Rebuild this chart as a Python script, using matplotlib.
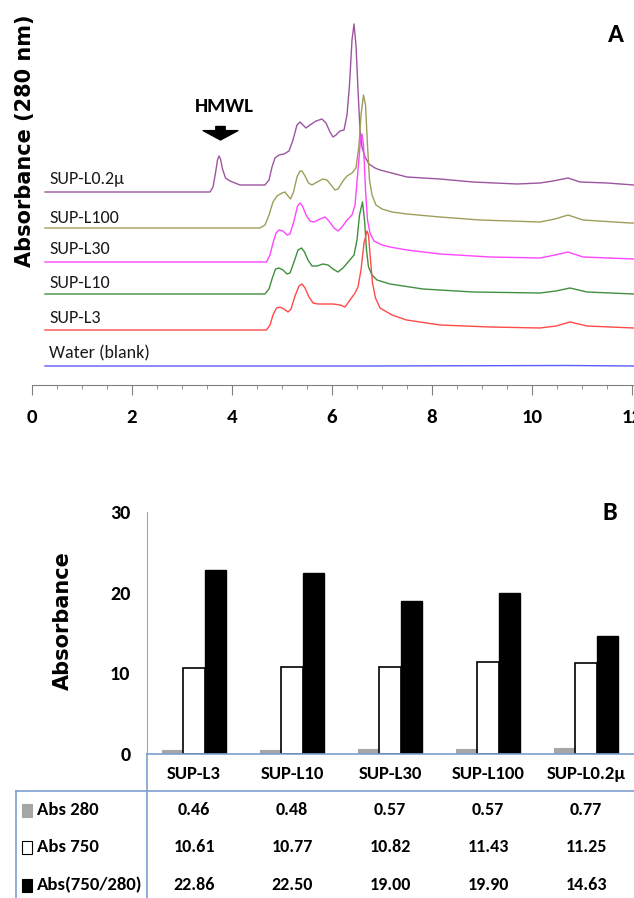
import numpy as np
import matplotlib
matplotlib.use('Agg')
import matplotlib.pyplot as plt
from matplotlib.patches import Rectangle
from matplotlib.lines import Line2D
import matplotlib.transforms as mtransforms

# chromatograms (elution time in min, absorbance at 280 nm, traces stacked)
t_l02 = [0.26, 3.56, 3.62, 3.67, 3.71, 3.74, 3.77, 3.81, 3.87, 3.96, 4.16, 4.66, 4.74, 4.80, 4.86,
         4.94, 5.04, 5.14, 5.22, 5.30, 5.36, 5.42, 5.48, 5.56, 5.68, 5.80, 5.88, 5.96, 6.02, 6.08,
         6.16, 6.24, 6.30, 6.35, 6.40, 6.44, 6.48, 6.52, 6.56, 6.60, 6.66, 6.74, 6.86, 6.96, 7.50,
         8.16, 8.82, 9.70, 10.16, 10.42, 10.72, 10.96, 11.50, 12.04]
a_l02 = [1.93, 1.93, 1.98, 2.12, 2.25, 2.29, 2.26, 2.16, 2.07, 2.04, 2.00, 2.00, 2.05, 2.18, 2.27,
         2.30, 2.31, 2.34, 2.45, 2.60, 2.63, 2.60, 2.57, 2.60, 2.64, 2.66, 2.62, 2.53, 2.48, 2.50,
         2.54, 2.55, 2.70, 3.00, 3.45, 3.61, 3.40, 2.95, 2.55, 2.38, 2.28, 2.21, 2.17, 2.15, 2.08,
         2.06, 2.03, 2.01, 2.02, 2.04, 2.07, 2.03, 2.02, 2.00]

t_l100 = [0.26, 4.56, 4.66, 4.74, 4.82, 4.90, 5.00, 5.06, 5.12, 5.17, 5.23, 5.30, 5.36, 5.40, 5.46,
          5.53, 5.60, 5.70, 5.82, 5.90, 5.98, 6.06, 6.12, 6.22, 6.30, 6.40, 6.48, 6.54, 6.58, 6.63,
          6.67, 6.71, 6.75, 6.80, 6.88, 7.00, 7.20, 7.50, 8.16, 8.96, 10.16, 10.46, 10.72, 11.02,
          11.96, 12.04]
a_l100 = [1.57, 1.57, 1.60, 1.70, 1.83, 1.89, 1.92, 1.93, 1.89, 1.86, 1.93, 2.08, 2.14, 2.14, 2.09,
          2.02, 2.00, 2.03, 2.06, 2.05, 2.00, 1.95, 1.96, 2.04, 2.09, 2.12, 2.17, 2.40, 2.70, 2.90,
          2.80, 2.40, 2.05, 1.90, 1.80, 1.76, 1.73, 1.71, 1.68, 1.65, 1.63, 1.66, 1.70, 1.65,
          1.62, 1.62]

t_l30 = [0.26, 4.69, 4.76, 4.82, 4.88, 4.94, 5.02, 5.10, 5.16, 5.24, 5.31, 5.36, 5.41, 5.48, 5.56,
         5.64, 5.76, 5.86, 5.94, 6.04, 6.12, 6.20, 6.30, 6.40, 6.46, 6.52, 6.57, 6.60, 6.63, 6.67,
         6.71, 6.76, 6.84, 7.00, 7.16, 7.50, 8.16, 9.16, 10.16, 10.46, 10.72, 11.02, 12.04]
a_l30 = [1.23, 1.23, 1.30, 1.42, 1.52, 1.55, 1.54, 1.50, 1.51, 1.64, 1.79, 1.82, 1.79, 1.70, 1.64,
         1.63, 1.66, 1.68, 1.64, 1.57, 1.54, 1.58, 1.65, 1.70, 1.80, 2.15, 2.45, 2.51, 2.40, 1.95,
         1.65, 1.52, 1.44, 1.40, 1.38, 1.35, 1.31, 1.28, 1.27, 1.30, 1.33, 1.28, 1.26]

t_l10 = [0.26, 4.66, 4.74, 4.80, 4.87, 4.94, 5.02, 5.10, 5.16, 5.24, 5.32, 5.39, 5.45, 5.52, 5.60,
         5.70, 5.82, 5.92, 6.02, 6.12, 6.22, 6.34, 6.44, 6.50, 6.55, 6.61, 6.65, 6.69, 6.73, 6.80,
         6.90, 7.16, 7.82, 8.82, 10.16, 10.48, 10.76, 11.10, 12.04]
a_l10 = [0.91, 0.91, 0.96, 1.06, 1.16, 1.17, 1.15, 1.11, 1.12, 1.23, 1.35, 1.37, 1.33, 1.25, 1.19,
         1.19, 1.21, 1.20, 1.16, 1.13, 1.17, 1.24, 1.30, 1.45, 1.70, 1.83, 1.65, 1.35, 1.18, 1.10,
         1.05, 1.01, 0.96, 0.93, 0.92, 0.94, 0.97, 0.93, 0.91]

t_l3 = [0.26, 4.69, 4.76, 4.82, 4.89, 4.96, 5.04, 5.12, 5.18, 5.26, 5.34, 5.40, 5.46, 5.54, 5.62,
        5.72, 6.02, 6.16, 6.26, 6.36, 6.46, 6.52, 6.58, 6.64, 6.70, 6.73, 6.77, 6.81, 6.87, 6.96,
        7.20, 7.49, 8.16, 9.16, 10.16, 10.48, 10.76, 11.10, 12.04]
a_l3 = [0.55, 0.55, 0.60, 0.70, 0.77, 0.78, 0.76, 0.73, 0.76, 0.89, 0.99, 1.01, 0.97, 0.88, 0.82,
        0.81, 0.81, 0.80, 0.78, 0.85, 0.92, 0.98, 1.15, 1.42, 1.54, 1.50, 1.25, 1.02, 0.87, 0.77,
        0.70, 0.65, 0.60, 0.58, 0.57, 0.59, 0.63, 0.59, 0.57]

t_water = [0.26, 3.00, 6.70, 10.72, 12.04]
a_water = [0.19, 0.19, 0.19, 0.195, 0.19]

trace_names = ['SUP-L0.2\u03bc', 'SUP-L100', 'SUP-L30', 'SUP-L10', 'SUP-L3', 'Water (blank)']
trace_label_y = [2.06, 1.67, 1.36, 1.02, 0.67, 0.32]

# panel B
categories = ['SUP-L3', 'SUP-L10', 'SUP-L30', 'SUP-L100', 'SUP-L0.2\u03bc']
abs280 = [0.46, 0.48, 0.57, 0.57, 0.77]
abs750 = [10.61, 10.77, 10.82, 11.43, 11.25]
ratio = [22.86, 22.50, 19.00, 19.90, 14.63]
row_names = ['Abs 280', 'Abs 750', 'Abs(750/280)']

calib = ['Carlito', 'Archivo Narrow', 'DejaVu Sans']

W, H = 634, 898
fig = plt.figure(figsize=(W / 100, H / 100), dpi=100)


def fx(px):
    return px / W


def fy(py):
    return 1 - py / H


# ---------------- panel A ----------------
ax = fig.add_axes([fx(32), fy(385), fx(634) - fx(32), fy(10) - fy(385)])
traces = [(t_l02, a_l02, '#9c55a0'), (t_l100, a_l100, '#9e9e5a'), (t_l30, a_l30, '#ff45ff'),
          (t_l10, a_l10, '#3f8f3f'), (t_l3, a_l3, '#ff4a4a'), (t_water, a_water, '#5a5aff')]
for (t, a, c), name, ly in zip(traces, trace_names, trace_label_y):
    ax.plot(t, a, color=c, lw=1.0)
    ax.text(0.34, ly, name, family=calib, fontsize=13, color='#1a1a1a', va='center', ha='left')

ax.set_xlim(0, 12.04)
ax.set_ylim(0, 3.75)
for s in ['top', 'right', 'left']:
    ax.spines[s].set_visible(False)
ax.spines['bottom'].set_color('#808080')
ax.set_yticks([])
ax.set_xticks([0, 2, 4, 6, 8, 10, 12])
ax.set_xticks(np.arange(0, 12.1, 0.5), minor=True)
ax.tick_params(axis='x', which='major', length=7, color='#808080', pad=10)
ax.tick_params(axis='x', which='minor', length=3, color='#808080')
for lab in ax.get_xticklabels():
    lab.set_family(calib)
    lab.set_fontweight('bold')
    lab.set_fontsize(15)

ax.text(3.84, 2.79, 'HMWL', family=calib, fontweight='bold', fontsize=15, ha='center', va='center')
ax.annotate('', xy=(3.77, 2.45), xytext=(3.77, 2.585),
            arrowprops=dict(arrowstyle='simple,head_length=0.27,head_width=1.0,tail_width=0.27',
                            color='black', shrinkA=0, shrinkB=0, mutation_scale=25))

fig.text(fx(25), fy(141), 'Absorbance (280 nm)', family='DejaVu Sans', fontweight='bold',
         fontsize=15, rotation=90, ha='center', va='center')
fig.text(fx(616), fy(35), 'A', family=calib, fontweight='bold', fontsize=19, ha='center', va='center')

# ---------------- panel B ----------------
bx = fig.add_axes([fx(147), fy(754), fx(637) - fx(147), fy(512) - fy(754)])
x = np.arange(len(categories))
w = 0.22
bx.bar(x - w, abs280, w, color='#a6a6a6', edgecolor='#a6a6a6', lw=0.8)
bx.bar(x, abs750, w, color='white', edgecolor='black', lw=1.2)
bx.bar(x + w, ratio, w, color='black', edgecolor='black', lw=1.0)
bx.set_xlim(-0.48, 4.52)
bx.set_ylim(0, 30)
bx.set_yticks([0, 10, 20, 30])
bx.set_xticks([])
bx.tick_params(axis='y', length=0, pad=12)
for lab in bx.get_yticklabels():
    lab.set_family(calib)
    lab.set_fontweight('bold')
    lab.set_fontsize(14.5)
for s in ['top', 'right']:
    bx.spines[s].set_visible(False)
bx.spines['left'].set_color('#a6a6a6')
bx.spines['bottom'].set_color('#7f9fd0')
bx.spines['bottom'].set_linewidth(1.2)

fig.text(fx(63), fy(621), 'Absorbance', family='DejaVu Sans', fontweight='bold',
         fontsize=15, rotation=90, ha='center', va='center')
fig.text(fx(610), fy(513), 'B', family=calib, fontweight='bold', fontsize=19, ha='center', va='center')

# data table under the bars
tab = '#7f9fd0'
fig.add_artist(Line2D([fx(147), fx(147)], [fy(754), fy(900)], color=tab, lw=1.2))
fig.add_artist(Line2D([fx(16), fx(640)], [fy(791), fy(791)], color=tab, lw=1.2))
fig.add_artist(Line2D([fx(16), fx(16)], [fy(791), fy(900)], color=tab, lw=1.2))

trans = mtransforms.blended_transform_factory(bx.transData, fig.transFigure)
for i, c in enumerate(categories):
    bx.text(i, fy(774), c, transform=trans, family=calib, fontweight='bold', fontsize=13.5,
            ha='center', va='center', clip_on=False)

row_y = [810, 847, 885]
key_face = ['#a6a6a6', 'white', 'black']
key_edge = ['#a6a6a6', 'black', 'black']
for vals, name, ry, fc, ec in zip([abs280, abs750, ratio], row_names, row_y, key_face, key_edge):
    fig.patches.append(Rectangle((fx(22), fy(ry + 6.5)), fx(10), fy(ry - 6.5) - fy(ry + 6.5),
                                 facecolor=fc, edgecolor=ec, lw=0.8, transform=fig.transFigure,
                                 figure=fig))
    fig.text(fx(37), fy(ry), name, family=calib, fontweight='bold', fontsize=13.5,
             ha='left', va='center')
    for i, v in enumerate(vals):
        bx.text(i, fy(ry), '%.2f' % v, transform=trans, family=calib, fontweight='bold',
                fontsize=13, ha='center', va='center', clip_on=False)

fig.savefig('out.png', dpi=100)
